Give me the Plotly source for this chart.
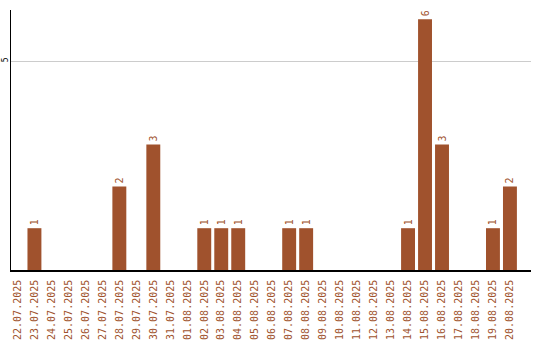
import plotly.graph_objects as go

dates = ["22.07.2025","23.07.2025","24.07.2025","25.07.2025","26.07.2025","27.07.2025",
         "28.07.2025","29.07.2025","30.07.2025","31.07.2025","01.08.2025","02.08.2025",
         "03.08.2025","04.08.2025","05.08.2025","06.08.2025","07.08.2025","08.08.2025",
         "09.08.2025","10.08.2025","11.08.2025","12.08.2025","13.08.2025","14.08.2025",
         "15.08.2025","16.08.2025","17.08.2025","18.08.2025","19.08.2025","20.08.2025"]
counts = [0,1,0,0,0,0,2,0,3,0,0,1,1,1,0,0,1,1,0,0,0,0,0,1,6,3,0,0,1,2]

color = "#A0522D"
labels = [str(v) if v > 0 else "" for v in counts]

fig = go.Figure(go.Bar(
    x=dates, y=counts, marker_color=color, marker_line_width=0,
    text=labels, textposition="outside", textangle=-90, cliponaxis=False,
    textfont=dict(family="DejaVu Sans Mono", size=10, color=color),
))

fig.update_layout(
    width=540, height=340,
    margin=dict(l=10.5, r=9, t=10, b=70),
    plot_bgcolor="white", paper_bgcolor="white",
    bargap=0.18, showlegend=False,
    xaxis=dict(type="category", range=[-0.38, 30.24], tickangle=-90, automargin=False,
               tickfont=dict(family="DejaVu Sans Mono", size=10, color=color),
               showline=True, linecolor="black", linewidth=1.5, ticks="",
               showgrid=False, ticklabelstandoff=4),
    yaxis=dict(range=[0, 6.22], tickvals=[5], tickangle=-90, automargin=False,
               tickfont=dict(family="DejaVu Sans Mono", size=8, color="black"),
               showline=True, linecolor="black", linewidth=1, ticks="",
               showgrid=True, gridcolor="#cccccc", zeroline=False,
               ticklabelstandoff=-1),
)

fig.write_html("out.html")
